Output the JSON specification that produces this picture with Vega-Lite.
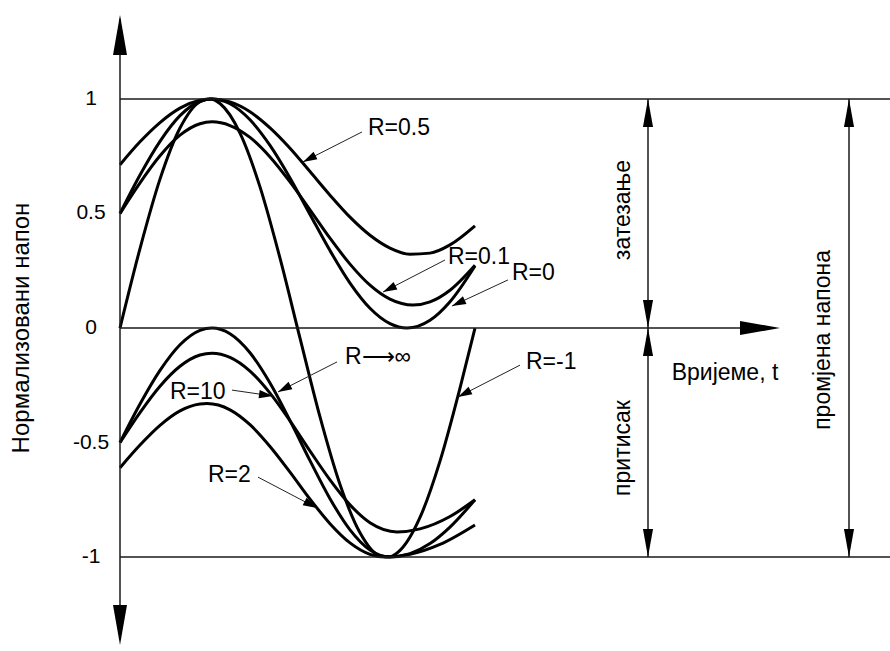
{
  "$schema": "https://vega.github.io/schema/vega-lite/v6.json",
  "width": 770,
  "height": 651,
  "autosize": {"type": "none"},
  "padding": {"left": 120, "top": 0, "right": 0, "bottom": 0},
  "background": "white",
  "config": {
    "view": {"stroke": null},
    "font": "Liberation Sans",
    "text": {"font": "Liberation Sans", "color": "black"}
  },
  "datasets": {
    "frame": [
      {"part": "stress axis", "x0": 0, "y0": -1.36, "x1": 0, "y1": 1.35},
      {"part": "time axis", "x0": 0, "y0": 0, "x1": 6.45, "y1": 0},
      {"part": "max level", "x0": 0, "y0": 1, "x1": 7.7, "y1": 1},
      {"part": "min level", "x0": 0, "y0": -1, "x1": 7.7, "y1": -1},
      {"part": "tension/compression span", "x0": 5.28, "y0": -1, "x1": 5.28, "y1": 1},
      {"part": "stress range span", "x0": 7.29, "y0": -1, "x1": 7.29, "y1": 1}
    ],
    "axisHeads": [
      {"x": 0, "y": 1.367, "dir": 0},
      {"x": 0, "y": -1.384, "dir": 180},
      {"x": 6.6, "y": 0, "dir": 90}
    ],
    "spanHeads": [
      {"x": 5.28, "y": 1, "dir": 0},
      {"x": 5.28, "y": 0, "dir": 180},
      {"x": 5.28, "y": 0, "dir": 0},
      {"x": 5.28, "y": -1, "dir": 180},
      {"x": 7.29, "y": 1, "dir": 0},
      {"x": 7.29, "y": -1, "dir": 180}
    ],
    "ticks": [
      {"label": "1", "y": 1},
      {"label": "0.5", "y": 0.5},
      {"label": "0", "y": 0},
      {"label": "-0.5", "y": -0.5},
      {"label": "-1", "y": -1}
    ],
    "curves": [
      {"R": "0.5", "t": 0, "v": 0.713}, {"R": "0.5", "t": 0.2, "v": 0.813}, {"R": "0.5", "t": 0.4, "v": 0.897},
      {"R": "0.5", "t": 0.6, "v": 0.96}, {"R": "0.5", "t": 0.8, "v": 0.994}, {"R": "0.5", "t": 0.92, "v": 1.0},
      {"R": "0.5", "t": 1.1, "v": 0.987}, {"R": "0.5", "t": 1.3, "v": 0.944}, {"R": "0.5", "t": 1.5, "v": 0.874},
      {"R": "0.5", "t": 1.7, "v": 0.785}, {"R": "0.5", "t": 1.9, "v": 0.683}, {"R": "0.5", "t": 2.1, "v": 0.58},
      {"R": "0.5", "t": 2.3, "v": 0.484}, {"R": "0.5", "t": 2.5, "v": 0.405}, {"R": "0.5", "t": 2.7, "v": 0.349},
      {"R": "0.5", "t": 2.9, "v": 0.322}, {"R": "0.5", "t": 3.1, "v": 0.327}, {"R": "0.5", "t": 3.3, "v": 0.363},
      {"R": "0.5", "t": 3.55, "v": 0.446},

      {"R": "0.1", "t": 0, "v": 0.5}, {"R": "0.1", "t": 0.2, "v": 0.634}, {"R": "0.1", "t": 0.4, "v": 0.752},
      {"R": "0.1", "t": 0.6, "v": 0.842}, {"R": "0.1", "t": 0.8, "v": 0.892}, {"R": "0.1", "t": 0.92, "v": 0.9},
      {"R": "0.1", "t": 1.1, "v": 0.884}, {"R": "0.1", "t": 1.3, "v": 0.832}, {"R": "0.1", "t": 1.5, "v": 0.747},
      {"R": "0.1", "t": 1.7, "v": 0.638}, {"R": "0.1", "t": 1.9, "v": 0.516}, {"R": "0.1", "t": 2.1, "v": 0.392},
      {"R": "0.1", "t": 2.3, "v": 0.279}, {"R": "0.1", "t": 2.5, "v": 0.187}, {"R": "0.1", "t": 2.7, "v": 0.126},
      {"R": "0.1", "t": 2.93, "v": 0.1}, {"R": "0.1", "t": 3.1, "v": 0.114}, {"R": "0.1", "t": 3.3, "v": 0.165},
      {"R": "0.1", "t": 3.55, "v": 0.274},

      {"R": "0", "t": 0, "v": 0.5}, {"R": "0", "t": 0.2, "v": 0.668}, {"R": "0", "t": 0.4, "v": 0.815},
      {"R": "0", "t": 0.6, "v": 0.927}, {"R": "0", "t": 0.8, "v": 0.99}, {"R": "0", "t": 0.92, "v": 1.0},
      {"R": "0", "t": 1.1, "v": 0.979}, {"R": "0", "t": 1.3, "v": 0.909}, {"R": "0", "t": 1.5, "v": 0.797},
      {"R": "0", "t": 1.7, "v": 0.655}, {"R": "0", "t": 1.9, "v": 0.496}, {"R": "0", "t": 2.1, "v": 0.338},
      {"R": "0", "t": 2.3, "v": 0.196}, {"R": "0", "t": 2.5, "v": 0.086}, {"R": "0", "t": 2.7, "v": 0.019},
      {"R": "0", "t": 2.87, "v": 0.0}, {"R": "0", "t": 3.1, "v": 0.034}, {"R": "0", "t": 3.3, "v": 0.115},
      {"R": "0", "t": 3.55, "v": 0.271},

      {"R": "-1", "t": 0, "v": 0.0}, {"R": "-1", "t": 0.2, "v": 0.347}, {"R": "-1", "t": 0.4, "v": 0.65},
      {"R": "-1", "t": 0.6, "v": 0.873}, {"R": "-1", "t": 0.8, "v": 0.988}, {"R": "-1", "t": 0.9, "v": 1.0},
      {"R": "-1", "t": 1.0, "v": 0.98}, {"R": "-1", "t": 1.2, "v": 0.851}, {"R": "-1", "t": 1.4, "v": 0.616},
      {"R": "-1", "t": 1.6, "v": 0.305}, {"R": "-1", "t": 1.8, "v": -0.044}, {"R": "-1", "t": 2.0, "v": -0.388},
      {"R": "-1", "t": 2.2, "v": -0.683}, {"R": "-1", "t": 2.4, "v": -0.894}, {"R": "-1", "t": 2.6, "v": -0.994},
      {"R": "-1", "t": 2.7, "v": -0.998}, {"R": "-1", "t": 2.8, "v": -0.971}, {"R": "-1", "t": 3.0, "v": -0.827},
      {"R": "-1", "t": 3.2, "v": -0.581}, {"R": "-1", "t": 3.4, "v": -0.262}, {"R": "-1", "t": 3.55, "v": 0.0},

      {"R": "inf", "t": 0, "v": -0.5}, {"R": "inf", "t": 0.2, "v": -0.332}, {"R": "inf", "t": 0.4, "v": -0.185},
      {"R": "inf", "t": 0.6, "v": -0.073}, {"R": "inf", "t": 0.8, "v": -0.01}, {"R": "inf", "t": 0.92, "v": 0.0},
      {"R": "inf", "t": 1.1, "v": -0.025}, {"R": "inf", "t": 1.3, "v": -0.108}, {"R": "inf", "t": 1.5, "v": -0.24},
      {"R": "inf", "t": 1.7, "v": -0.404}, {"R": "inf", "t": 1.9, "v": -0.579}, {"R": "inf", "t": 2.1, "v": -0.745},
      {"R": "inf", "t": 2.3, "v": -0.881}, {"R": "inf", "t": 2.5, "v": -0.969}, {"R": "inf", "t": 2.7, "v": -1.0},
      {"R": "inf", "t": 2.9, "v": -0.985}, {"R": "inf", "t": 3.1, "v": -0.941}, {"R": "inf", "t": 3.3, "v": -0.869},
      {"R": "inf", "t": 3.55, "v": -0.75},

      {"R": "10", "t": 0, "v": -0.5}, {"R": "10", "t": 0.2, "v": -0.369}, {"R": "10", "t": 0.4, "v": -0.254},
      {"R": "10", "t": 0.6, "v": -0.167}, {"R": "10", "t": 0.8, "v": -0.118}, {"R": "10", "t": 0.92, "v": -0.11},
      {"R": "10", "t": 1.1, "v": -0.128}, {"R": "10", "t": 1.3, "v": -0.188}, {"R": "10", "t": 1.5, "v": -0.284},
      {"R": "10", "t": 1.7, "v": -0.405}, {"R": "10", "t": 1.9, "v": -0.537}, {"R": "10", "t": 2.1, "v": -0.663},
      {"R": "10", "t": 2.3, "v": -0.772}, {"R": "10", "t": 2.5, "v": -0.85}, {"R": "10", "t": 2.77, "v": -0.89},
      {"R": "10", "t": 3.0, "v": -0.877}, {"R": "10", "t": 3.3, "v": -0.823}, {"R": "10", "t": 3.55, "v": -0.75},

      {"R": "2", "t": 0, "v": -0.61}, {"R": "2", "t": 0.2, "v": -0.511}, {"R": "2", "t": 0.4, "v": -0.425},
      {"R": "2", "t": 0.6, "v": -0.362}, {"R": "2", "t": 0.8, "v": -0.332}, {"R": "2", "t": 0.87, "v": -0.33},
      {"R": "2", "t": 1.1, "v": -0.357}, {"R": "2", "t": 1.3, "v": -0.422}, {"R": "2", "t": 1.5, "v": -0.517},
      {"R": "2", "t": 1.7, "v": -0.629}, {"R": "2", "t": 1.9, "v": -0.747}, {"R": "2", "t": 2.1, "v": -0.854},
      {"R": "2", "t": 2.3, "v": -0.938}, {"R": "2", "t": 2.5, "v": -0.988}, {"R": "2", "t": 2.65, "v": -1.0},
      {"R": "2", "t": 2.9, "v": -0.988}, {"R": "2", "t": 3.2, "v": -0.945}, {"R": "2", "t": 3.55, "v": -0.86}
    ],
    "leaders": [
      {"label": "R=0.5", "lx": 2.48, "ly": 0.873, "x0": 2.42, "y0": 0.856, "x1": 1.83, "y1": 0.725, "dir": 243},
      {"label": "R=0.1", "lx": 3.28, "ly": 0.31, "x0": 3.25, "y0": 0.297, "x1": 2.63, "y1": 0.157, "dir": 243},
      {"label": "R=0", "lx": 3.92, "ly": 0.24, "x0": 3.88, "y0": 0.21, "x1": 3.32, "y1": 0.096, "dir": 245},
      {"label": "R=-1", "lx": 4.06, "ly": -0.148, "x0": 4.0, "y0": -0.162, "x1": 3.38, "y1": -0.301, "dir": 243},
      {"label": "R⟶∞", "lx": 2.25, "ly": -0.127, "x0": 2.17, "y0": -0.148, "x1": 1.58, "y1": -0.279, "dir": 243},
      {"label": "R=10", "lx": 0.5, "ly": -0.279, "x0": 1.12, "y0": -0.271, "x1": 1.53, "y1": -0.297, "dir": 98},
      {"label": "R=2", "lx": 0.88, "ly": -0.642, "x0": 1.38, "y0": -0.651, "x1": 1.97, "y1": -0.786, "dir": 118}
    ],
    "notes": [
      {"text": "затезање", "x": 5.03, "y": 0.515, "angle": 270},
      {"text": "притисак", "x": 5.03, "y": -0.524, "angle": 270},
      {"text": "промјена напона", "x": 7.03, "y": -0.052, "angle": 270},
      {"text": "Вријеме, t", "x": 6.05, "y": -0.197, "angle": 0}
    ],
    "titles": [
      {"text": "Нормализовани напон", "x": -0.98, "y": 0.0, "angle": 270}
    ]
  },
  "layer": [
    {
      "data": {"name": "curves"},
      "mark": {"type": "line", "stroke": "black", "strokeWidth": 3, "interpolate": "monotone"},
      "encoding": {
        "x": {"field": "t", "type": "quantitative", "scale": {"domain": [0, 7.7], "nice": false, "zero": false}, "axis": null},
        "y": {"field": "v", "type": "quantitative", "scale": {"domain": [-1.41, 1.432], "nice": false, "zero": false}, "axis": null},
        "detail": {"field": "R"}
      }
    },
    {
      "data": {"name": "frame"},
      "mark": {"type": "rule", "stroke": "#1a1a1a", "strokeWidth": 1.5},
      "encoding": {
        "x": {"field": "x0", "type": "quantitative", "axis": null},
        "y": {"field": "y0", "type": "quantitative", "axis": null},
        "x2": {"field": "x1"},
        "y2": {"field": "y1"}
      }
    },
    {
      "data": {"name": "axisHeads"},
      "mark": {"type": "point", "shape": "M0,0L0.175,1L-0.175,1Z", "filled": true, "fill": "black", "opacity": 1, "strokeWidth": 0, "size": 6400},
      "encoding": {
        "x": {"field": "x", "type": "quantitative", "axis": null},
        "y": {"field": "y", "type": "quantitative", "axis": null},
        "angle": {"field": "dir", "type": "quantitative", "scale": null}
      }
    },
    {
      "data": {"name": "spanHeads"},
      "mark": {"type": "point", "shape": "M0,0L0.18,1L-0.18,1Z", "filled": true, "fill": "black", "opacity": 1, "strokeWidth": 0, "size": 3136},
      "encoding": {
        "x": {"field": "x", "type": "quantitative", "axis": null},
        "y": {"field": "y", "type": "quantitative", "axis": null},
        "angle": {"field": "dir", "type": "quantitative", "scale": null}
      }
    },
    {
      "data": {"name": "ticks"},
      "mark": {"type": "text", "align": "center", "baseline": "middle", "fontSize": 21, "font": "Liberation Sans", "color": "black", "dx": -29},
      "encoding": {
        "x": {"datum": 0, "type": "quantitative", "axis": null},
        "y": {"field": "y", "type": "quantitative", "axis": null},
        "text": {"field": "label"}
      }
    },
    {
      "data": {"name": "leaders"},
      "mark": {"type": "rule", "stroke": "#222", "strokeWidth": 1},
      "encoding": {
        "x": {"field": "x0", "type": "quantitative", "axis": null},
        "y": {"field": "y0", "type": "quantitative", "axis": null},
        "x2": {"field": "x1"},
        "y2": {"field": "y1"}
      }
    },
    {
      "data": {"name": "leaders"},
      "mark": {"type": "point", "shape": "M0,0L0.3,1L-0.3,1Z", "filled": true, "fill": "black", "opacity": 1, "strokeWidth": 0, "size": 784},
      "encoding": {
        "x": {"field": "x1", "type": "quantitative", "axis": null},
        "y": {"field": "y1", "type": "quantitative", "axis": null},
        "angle": {"field": "dir", "type": "quantitative", "scale": null}
      }
    },
    {
      "data": {"name": "leaders"},
      "mark": {"type": "text", "align": "left", "baseline": "middle", "fontSize": 23, "font": "Liberation Sans", "color": "black"},
      "encoding": {
        "x": {"field": "lx", "type": "quantitative", "axis": null},
        "y": {"field": "ly", "type": "quantitative", "axis": null},
        "text": {"field": "label"}
      }
    },
    {
      "data": {"name": "notes"},
      "mark": {"type": "text", "align": "center", "baseline": "middle", "fontSize": 23, "font": "Liberation Sans", "color": "black"},
      "encoding": {
        "x": {"field": "x", "type": "quantitative", "axis": null},
        "y": {"field": "y", "type": "quantitative", "axis": null},
        "text": {"field": "text"},
        "angle": {"field": "angle", "type": "quantitative", "scale": null}
      }
    },
    {
      "data": {"name": "titles"},
      "mark": {"type": "text", "align": "center", "baseline": "middle", "fontSize": 24, "font": "Liberation Sans", "color": "black"},
      "encoding": {
        "x": {"field": "x", "type": "quantitative", "axis": null},
        "y": {"field": "y", "type": "quantitative", "axis": null},
        "text": {"field": "text"},
        "angle": {"field": "angle", "type": "quantitative", "scale": null}
      }
    }
  ]
}
